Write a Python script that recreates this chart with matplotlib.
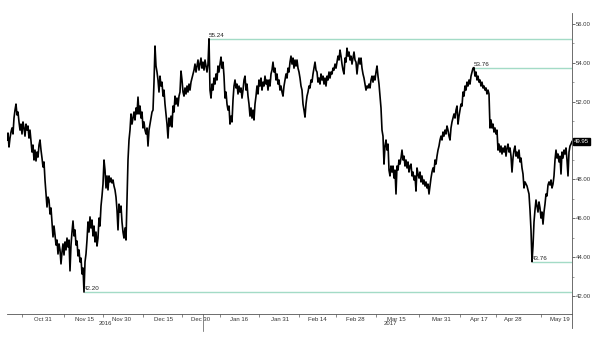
import numpy as np
import matplotlib.pyplot as plt
import matplotlib.transforms as mtransforms

# price series, one bar every 1/3.76 trading day, first bar on 2016-10-18
price = [
    # late Oct - mid Nov 2016
    50.03, 50.39, 49.67, 50.13, 50.44, 50.65, 50.34, 51.16, 51.57, 51.88,
    51.32, 51.47, 50.96, 50.54, 50.85, 50.34, 50.96, 50.65, 50.23, 50.85,
    50.54, 50.75, 50.13, 50.54, 49.98, 49.41, 49.77, 49.00, 49.51, 48.95,
    49.41, 49.15, 49.77, 50.03, 49.51, 49.10, 48.64, 48.90, 47.97, 47.25,
    46.58, 47.09, 46.94, 46.22, 46.53, 45.81, 45.04, 45.60, 45.14, 44.62,
    44.88, 44.16, 44.68, 44.37, 43.65, 44.26, 44.68, 44.11, 44.78, 44.37,
    44.98, 44.52, 44.88, 43.29, 44.62, 45.29, 45.86, 45.09, 45.40, 44.62,
    44.83, 44.06, 44.37, 43.75, 43.95, 43.13, 43.44, 42.20, 43.75, 44.16,
    # mid Nov - mid Dec
    44.88, 45.81, 45.29, 46.07, 45.50, 45.91, 45.09, 45.60, 44.78, 45.29,
    44.57, 44.98, 46.01, 45.60, 46.63, 47.15, 47.76, 49.00, 48.48, 47.56,
    48.18, 47.46, 48.18, 47.87, 48.07, 47.82, 47.97, 47.66, 47.46, 47.09,
    46.43, 45.40, 46.73, 46.32, 46.63, 45.81, 45.29, 44.98, 45.50, 44.88,
    46.94, 49.00, 50.03, 50.54, 51.37, 50.85, 51.16, 51.47, 51.06, 51.68,
    51.37, 52.24, 51.37, 51.78, 51.16, 51.47, 50.65, 50.96, 50.54, 50.34,
    50.65, 49.72, 50.54, 50.85, 51.16, 51.47, 51.57, 53.01, 54.87, 53.84,
    53.53, 53.12, 52.50, 53.32, 52.81, 53.01, 52.29, 52.60, 51.88, 51.37,
    50.85, 50.13, 51.16, 50.75, 51.26,
    # mid Dec - late Jan 2017
    50.70, 51.78, 51.47, 52.29, 51.88, 52.19, 51.78, 52.29, 52.50, 53.58,
    53.12, 52.50, 52.29, 52.71, 52.40, 52.81, 52.50, 52.91, 52.60, 53.01,
    53.22, 53.43, 53.63, 53.94, 53.53, 53.84, 54.15, 53.63, 53.94, 54.25,
    53.73, 54.04, 53.63, 54.15, 53.84, 53.53, 53.94, 55.24, 52.60, 52.19,
    52.91, 52.60, 53.22, 52.91, 53.43, 53.12, 53.84, 53.53, 53.94, 54.30,
    53.73, 54.04, 53.32, 52.19, 52.50, 51.88, 51.57, 51.78, 50.85, 51.26,
    50.96, 52.09, 52.81, 53.12, 52.71, 52.91, 52.40, 52.81, 52.50, 52.71,
    52.19, 52.60, 53.12, 53.32, 52.60, 52.91, 52.29, 51.88, 51.26, 51.68,
    51.16, 51.57, 51.06, 51.88, 52.29, 52.81,
    # late Jan - early Mar
    52.40, 53.12, 52.81, 53.22, 52.60, 53.01, 52.81, 53.32, 52.91, 53.12,
    52.60, 53.12, 52.81, 53.43, 53.63, 54.04, 53.53, 53.73, 53.12, 53.43,
    52.91, 53.12, 52.60, 52.81, 52.50, 52.29, 52.81, 53.12, 53.43, 53.22,
    53.73, 53.53, 54.04, 54.35, 53.94, 54.25, 53.73, 54.15, 53.84, 54.15,
    53.73, 53.53, 53.22, 52.81, 52.60, 51.88, 51.57, 51.21, 51.88, 52.29,
    52.50, 52.81, 52.71, 53.12, 53.01, 53.43, 53.73, 54.04, 53.63, 53.53,
    53.01, 53.22, 52.91, 53.43, 53.12, 53.32, 52.91, 53.22, 52.81, 53.32,
    53.12, 53.53, 53.22, 53.53, 53.43, 53.73, 53.63, 53.94, 53.73, 54.04,
    54.35, 54.15, 54.66, 54.35, 53.94, 53.63,
    # early Mar - late Mar
    53.43, 54.25, 54.04, 54.76, 54.35, 54.56, 54.15, 54.35, 53.94, 54.25,
    54.56, 54.15, 54.04, 53.43, 53.94, 54.25, 53.94, 54.25, 53.73, 53.43,
    53.22, 52.91, 52.60, 52.81, 52.71, 52.91, 52.71, 53.12, 53.32, 53.01,
    53.32, 53.12, 53.53, 53.84, 53.32, 52.91, 52.29, 51.68, 50.54, 50.23,
    48.79, 49.72, 50.03, 49.51, 49.82, 48.48, 48.18, 48.69, 48.38, 48.69,
    48.07, 48.48, 47.25, 48.69, 48.48, 49.00, 48.79, 49.10, 49.51, 49.00,
    49.20, 48.69, 49.00, 48.59, 48.90, 48.38, 48.69, 48.79, 48.18, 48.38,
    47.97, 48.18, 47.40, 48.59, 48.28, 48.07, 48.38, 47.87, 48.18, 47.76,
    47.97, 47.66, 47.87, 47.56, 47.76, 47.25,
    # late Mar - end Apr
    47.66, 48.07, 48.38, 48.59, 48.38, 49.00, 48.79, 49.20, 49.51, 49.72,
    50.03, 50.23, 50.03, 50.44, 50.23, 50.54, 50.34, 50.75, 50.54, 50.23,
    50.03, 50.65, 50.96, 51.16, 51.37, 51.16, 51.57, 51.78, 50.85, 51.26,
    51.57, 51.88, 51.78, 52.50, 52.29, 52.81, 52.60, 53.01, 52.81, 53.12,
    52.91, 53.32, 53.53, 53.73, 53.76, 53.32, 53.53, 53.12, 53.32, 53.01,
    53.12, 52.81, 53.01, 52.71, 52.81, 52.60, 52.71, 52.40, 52.60, 52.40,
    50.65, 51.06, 50.65, 50.85, 50.44, 50.65, 50.34, 50.54, 49.51, 49.82,
    49.41, 49.72, 49.31, 49.62, 49.41, 49.72, 49.20, 49.62, 49.82, 49.41,
    49.62, 49.20, 48.38, 49.10, 49.51, 49.72,
    # May
    49.20, 49.41, 49.10, 49.51, 48.90, 49.10, 48.59, 48.28, 47.56, 47.87,
    47.76, 47.66, 47.46, 47.25, 46.43, 45.40, 43.76, 44.57, 45.81, 46.43,
    46.94, 46.63, 46.32, 46.84, 46.53, 46.01, 46.32, 45.70, 46.32, 46.73,
    47.25, 47.15, 47.71, 47.87, 47.71, 47.97, 47.56, 47.76, 48.18, 49.00,
    49.51, 49.10, 49.31, 48.90, 49.20, 48.28, 49.41, 49.10, 49.51, 49.31,
    49.62, 49.00, 48.18, 49.41, 49.72, 49.82, 49.95,
]
bar_days = 1 / 3.76
first_bar = -0.585

start_date = '2016-10-18'
holidays = ['2016-11-24', '2016-12-26', '2017-01-02', '2017-04-14']
tick_dates = ['2016-10-31', '2016-11-15', '2016-11-30', '2016-12-15', '2016-12-30',
              '2017-01-16', '2017-01-31', '2017-02-14', '2017-02-28', '2017-03-15',
              '2017-03-31', '2017-04-17', '2017-04-28', '2017-05-19']
tick_labels = ['Oct 31', 'Nov 15', 'Nov 30', 'Dec 15', 'Dec 30', 'Jan 16', 'Jan 31',
               'Feb 14', 'Feb 28', 'Mar 15', 'Mar 31', 'Apr 17', 'Apr 28', 'May 19']
year_labels = ['2016', '2017']
year_dates = ['2016-11-22', '2017-03-13']
y_ticks = [42, 44, 46, 48, 50, 52, 54, 56]


def tday(d):
    return np.busday_count(start_date, d, holidays=holidays)


price = np.array(price)
t = first_bar + np.arange(len(price)) * bar_days

fig = plt.figure(figsize=(6, 3.41), dpi=100)
ax = fig.add_axes([7 / 600, 1 - 314 / 341, 565 / 600, 301 / 341])
ax.set_xlim(first_bar, t[-1])
ax.set_ylim(41.07, 56.57)

ax.plot(t, price, color='black', lw=1.2, zorder=3)

# high / low marker lines
ref_col = '#a3dbc6'
i_max = int(np.argmax(price))
i_min = int(np.argmin(price))
late = t > 110
i_hi2 = int(np.argmax(np.where(late, price, -np.inf)))
late2 = t > 128
i_lo2 = int(np.argmin(np.where(late2, price, np.inf)))
for i in [i_max, i_min, i_hi2, i_lo2]:
    ax.hlines(price[i], t[i], t[-1], color=ref_col, lw=1.0, zorder=2)
    ax.text(t[i], price[i] + 0.04, f'{price[i]:.2f}', fontsize=4.5, color='#222222',
            ha='left', va='bottom', family='Liberation Sans')

# axes styling
for s in ['top', 'left']:
    ax.spines[s].set_visible(False)
for s in ['bottom', 'right']:
    ax.spines[s].set_color('#555555')
    ax.spines[s].set_linewidth(0.6)

# the last-price tag sits over the 50.00 label, so that label is left blank
last = price[-1]
ax.yaxis.tick_right()
ax.set_yticks(y_ticks)
ax.set_yticks(np.arange(43, 56, 2), minor=True)
ax.set_yticklabels(['' if abs(v - last) < 0.5 else f'{v:.2f}' for v in y_ticks])
ax.tick_params(axis='y', which='major', length=2, width=0.5, pad=1, labelsize=4.3,
               colors='#333333')
ax.tick_params(axis='y', which='minor', length=1.2, width=0.4, colors='#555555')

tpos = np.array([tday(d) for d in tick_dates], dtype=float)
mids = (tpos[:-1] + tpos[1:]) / 2
marks = np.concatenate([[tpos[0] - (tpos[1] - tpos[0]) / 2], mids])
ax.set_xticks(marks)
ax.set_xticklabels([])
ax.set_xticks(tpos, minor=True)
ax.set_xticklabels(tick_labels, minor=True)
ax.tick_params(axis='x', which='major', length=2, width=0.5, colors='#555555')
ax.tick_params(axis='x', which='minor', length=0, pad=2, labelsize=4.3,
               labelcolor='#333333')
ax.get_xticklabels(minor=True)[-1].set_horizontalalignment('right')

for lab in ax.get_xticklabels(minor=True) + ax.get_yticklabels():
    lab.set_family('Liberation Sans')

xtr = ax.get_xaxis_transform()
ax.plot([tday('2017-01-03') - 0.5] * 2, [0, -0.055], transform=xtr, clip_on=False,
        color='#555555', lw=0.5)
ax.plot([1, 1], [0, -0.045], transform=ax.transAxes, clip_on=False,
        color='#555555', lw=0.6)
for lab, d in zip(year_labels, year_dates):
    ax.text(tday(d) + 0.5, -0.03, lab, transform=xtr, fontsize=4.3, color='#333333',
            ha='center', va='center', family='Liberation Sans')

# last price tag
ytr = mtransforms.blended_transform_factory(ax.transAxes, ax.transData)
ax.text(1.004, last, f'{last:.2f}', transform=ytr, fontsize=4.3,
        color='white', ha='left', va='center', family='Liberation Sans',
        bbox=dict(facecolor='black', edgecolor='black', boxstyle='square,pad=0.15'),
        zorder=5)

fig.savefig('out.png', dpi=100)
